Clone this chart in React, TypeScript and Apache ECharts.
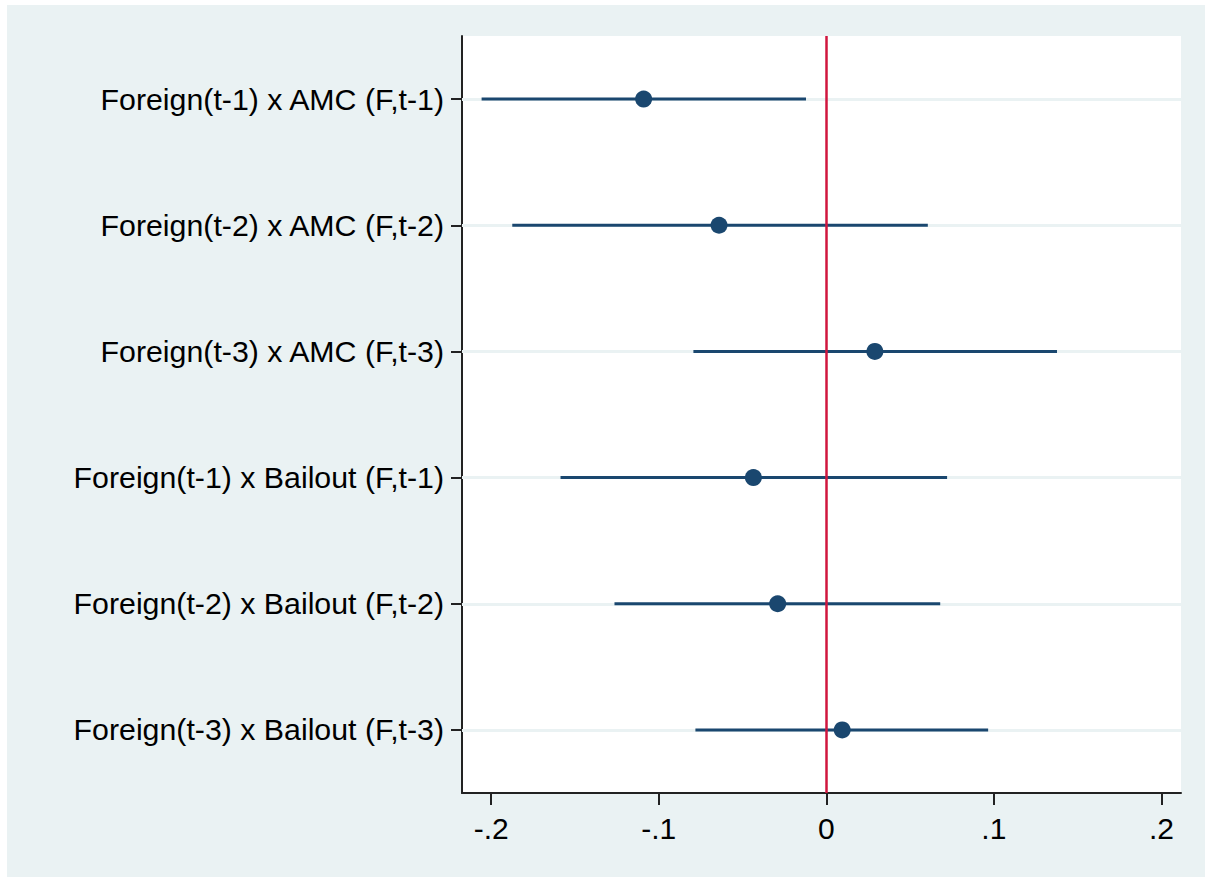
import React, { useEffect, useRef } from "react";
import * as echarts from "echarts";

const categories = [
  "Foreign(t-1) x AMC (F,t-1)",
  "Foreign(t-2) x AMC (F,t-2)",
  "Foreign(t-3) x AMC (F,t-3)",
  "Foreign(t-1) x Bailout (F,t-1)",
  "Foreign(t-2) x Bailout (F,t-2)",
  "Foreign(t-3) x Bailout (F,t-3)",
];
const estimates = [-0.109, -0.064, 0.029, -0.0435, -0.029, 0.0095];
const lowerCI = [-0.2057, -0.1874, -0.0793, -0.1586, -0.1264, -0.0781];
const upperCI = [-0.0121, 0.0606, 0.1377, 0.0721, 0.068, 0.0966];
const xTickValues = [-0.2, -0.1, 0, 0.1, 0.2];
const xTickLabels = ["-.2", "-.1", "0", ".1", ".2"];

const NAVY = "#1A476F";
const RED = "#D0163E";
const BG = "#EAF2F3";
const FONT = "Liberation Sans, Arial, sans-serif";

export default function App() {
  const ref = useRef<HTMLDivElement>(null);
  useEffect(() => {
    if (!ref.current) return;
    const chart = echarts.init(ref.current, undefined, { renderer: "svg" });
    const ciSeries = categories.map((c, i) => ({
      type: "line",
      z: 3,
      symbol: "none",
      silent: true,
      lineStyle: { color: NAVY, width: 3 },
      data: [
        [lowerCI[i], i],
        [upperCI[i], i],
      ],
    }));
    const option: any = {
      animation: false,
      backgroundColor: BG,
      graphic: [
        { type: "rect", left: 0, top: 0, shape: { width: 7, height: 877 }, style: { fill: "#fff" }, z: 100 },
        { type: "rect", left: 0, top: 0, shape: { width: 1205, height: 5 }, style: { fill: "#fff" }, z: 100 },
      ],
      grid: {
        left: 462,
        right: 24,
        top: 36,
        bottom: 84,
        show: true,
        backgroundColor: "#fff",
        borderWidth: 0,
      },
      xAxis: {
        type: "value",
        min: -0.2174,
        max: 0.2117,
        axisLine: { show: true, onZero: false, lineStyle: { color: "#222", width: 2 } },
        axisTick: { show: true, length: 12, customValues: xTickValues, lineStyle: { color: "#222", width: 2 } },
        axisLabel: {
          customValues: xTickValues,
          margin: 20,
          color: "#000",
          fontSize: 30,
          fontFamily: FONT,
          formatter: (v: number) => {
            const i = xTickValues.findIndex((t) => Math.abs(t - v) < 1e-9);
            return i >= 0 ? xTickLabels[i] : "";
          },
        },
        splitLine: { show: false },
      },
      yAxis: {
        type: "category",
        data: categories,
        inverse: true,
        axisLine: { show: true, onZero: false, lineStyle: { color: "#222", width: 2 } },
        axisTick: { show: true, alignWithLabel: true, length: 11, lineStyle: { color: "#222", width: 2 } },
        axisLabel: { margin: 18, color: "#000", fontSize: 30.3, fontFamily: FONT },
        splitLine: { show: false },
      },
      series: [
        {
          type: "line",
          data: [],
          z: 1,
          markLine: {
            z: 1,
            silent: true,
            symbol: "none",
            label: { show: false },
            lineStyle: { color: BG, width: 3, type: "solid" },
            data: categories.map((c) => ({ yAxis: c })),
          },
        },
        ...ciSeries,
        {
          type: "line",
          data: [],
          z: 4,
          markLine: {
            z: 4,
            silent: true,
            symbol: "none",
            label: { show: false },
            lineStyle: { color: RED, width: 2.5, type: "solid" },
            data: [{ xAxis: 0 }],
          },
        },
        {
          type: "scatter",
          z: 5,
          symbol: "circle",
          symbolSize: 17,
          itemStyle: { color: NAVY, opacity: 1 },
          data: categories.map((c, i) => [estimates[i], i]),
        },
      ],
    };
    chart.setOption(option);
    return () => chart.dispose();
  }, []);
  return (
    <div
      ref={ref}
      style={{ position: "absolute", left: 0, top: 0, width: 1205, height: 877 }}
    />
  );
}
